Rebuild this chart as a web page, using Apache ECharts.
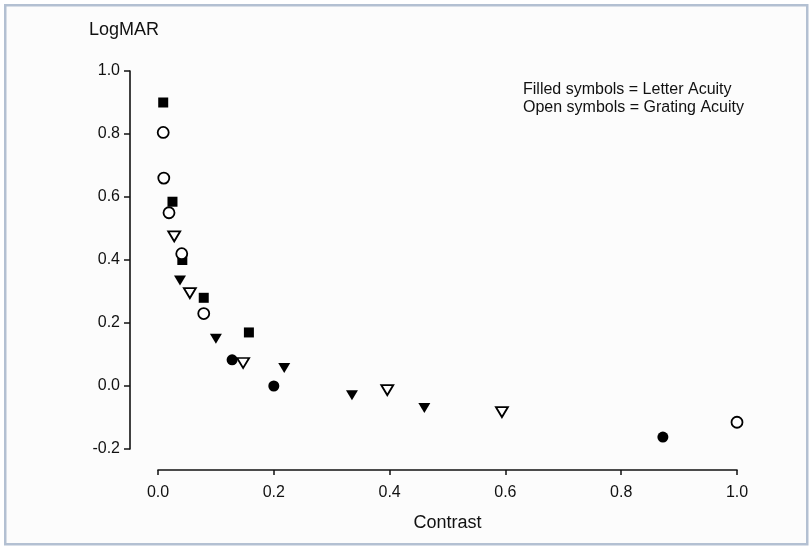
<!DOCTYPE html>
<html>
<head>
<meta charset="utf-8">
<script src="https://cdn.jsdelivr.net/npm/echarts@6/dist/echarts.min.js"></script>
<style>
  html, body { margin: 0; padding: 0; background: #ffffff; }
  #chart { width: 810px; height: 548px; }
</style>
</head>
<body>
<div id="chart"></div>
<script>
// Contrast (x) vs LogMAR (y)
// Letter acuity (filled symbols)
const letterSquares   = [[0.009, 0.90], [0.025, 0.585], [0.042, 0.40], [0.079, 0.28], [0.157, 0.17]];
const letterTriangles = [[0.038, 0.335], [0.100, 0.15], [0.218, 0.057], [0.335, -0.029], [0.460, -0.07]];
const letterCircles   = [[0.128, 0.083], [0.200, 0.0], [0.872, -0.162]];
// Grating acuity (open symbols)
const gratingCircles   = [[0.009, 0.805], [0.010, 0.66], [0.019, 0.55], [0.041, 0.42], [0.079, 0.23], [1.0, -0.115]];
const gratingTriangles = [[0.028, 0.475], [0.055, 0.295], [0.147, 0.073], [0.396, -0.013], [0.594, -0.083]];

const xTicks = [0.0, 0.2, 0.4, 0.6, 0.8, 1.0];
const yTicks = [-0.2, 0.0, 0.2, 0.4, 0.6, 0.8, 1.0];

const axisTitleX = 'Contrast';
const axisTitleY = 'LogMAR';
const noteLines = ['Filled symbols = Letter Acuity', 'Open symbols = Grating Acuity'];

const ink = '#111111';
const font = 'Liberation Sans, Arial, Helvetica, sans-serif';

const chart = echarts.init(document.getElementById('chart'), null, { renderer: 'canvas' });

function filled(name, data, symbol, size, rotate) {
  return {
    name, type: 'scatter', data, symbol, symbolSize: size, symbolRotate: rotate || 0,
    itemStyle: { color: '#000000', borderWidth: 0, opacity: 1 },
    z: 3
  };
}
function open(name, data, symbol, size, rotate) {
  return {
    name, type: 'scatter', data, symbol, symbolSize: size, symbolRotate: rotate || 0,
    itemStyle: { color: '#ffffff', borderColor: '#000000', borderWidth: 1.8, opacity: 1 },
    z: 4
  };
}

const fmt = v => (Math.abs(v) < 1e-9 ? 0 : v).toFixed(1);

chart.setOption({
  backgroundColor: '#ffffff',
  animation: false,
  graphic: [
    {
      type: 'rect', left: 4, top: 4, z: -10, silent: true,
      shape: { width: 802, height: 539 },
      style: { fill: '#fcfcfc', stroke: '#b3c0d2', lineWidth: 2.5 }
    }
  ],
  title: {
    text: noteLines.join('\n'),
    left: 518, top: 76,
    textStyle: { fontFamily: font, fontSize: 16, fontWeight: 'normal', color: ink, lineHeight: 18 }
  },
  grid: { left: 158, right: 73, top: 71, bottom: 99, containLabel: false },
  xAxis: {
    type: 'value', min: xTicks[0], max: xTicks[xTicks.length - 1], interval: 0.2,
    offset: 21,
    name: axisTitleX, nameLocation: 'middle', nameGap: 44,
    nameTextStyle: { fontFamily: font, fontSize: 18, color: ink },
    axisLine: { show: true, onZero: false, lineStyle: { color: ink, width: 1.6 } },
    axisTick: { show: true, length: 5, inside: false, lineStyle: { color: ink, width: 1.5 } },
    axisLabel: { fontFamily: font, fontSize: 16, color: ink, margin: 15, formatter: fmt },
    splitLine: { show: false }
  },
  yAxis: {
    type: 'value', min: yTicks[0], max: yTicks[yTicks.length - 1], interval: 0.2,
    offset: 28,
    name: axisTitleY, nameLocation: 'end', nameGap: 32,
    nameTextStyle: { fontFamily: font, fontSize: 18, color: ink, padding: [0, 12, 0, 0] },
    axisLine: { show: true, onZero: false, lineStyle: { color: ink, width: 1.6 } },
    axisTick: { show: true, length: 6, inside: false, lineStyle: { color: ink, width: 1.5 } },
    axisLabel: { fontFamily: font, fontSize: 16, color: ink, margin: 10, formatter: fmt },
    splitLine: { show: false }
  },
  series: [
    filled('Letter (square)', letterSquares, 'rect', 10),
    filled('Letter (triangle)', letterTriangles, 'triangle', [12, 10], 180),
    filled('Letter (circle)', letterCircles, 'circle', 11),
    open('Grating (circle)', gratingCircles, 'circle', 11),
    open('Grating (triangle)', gratingTriangles, 'triangle', [12, 10], 180)
  ]
});
</script>
</body>
</html>
